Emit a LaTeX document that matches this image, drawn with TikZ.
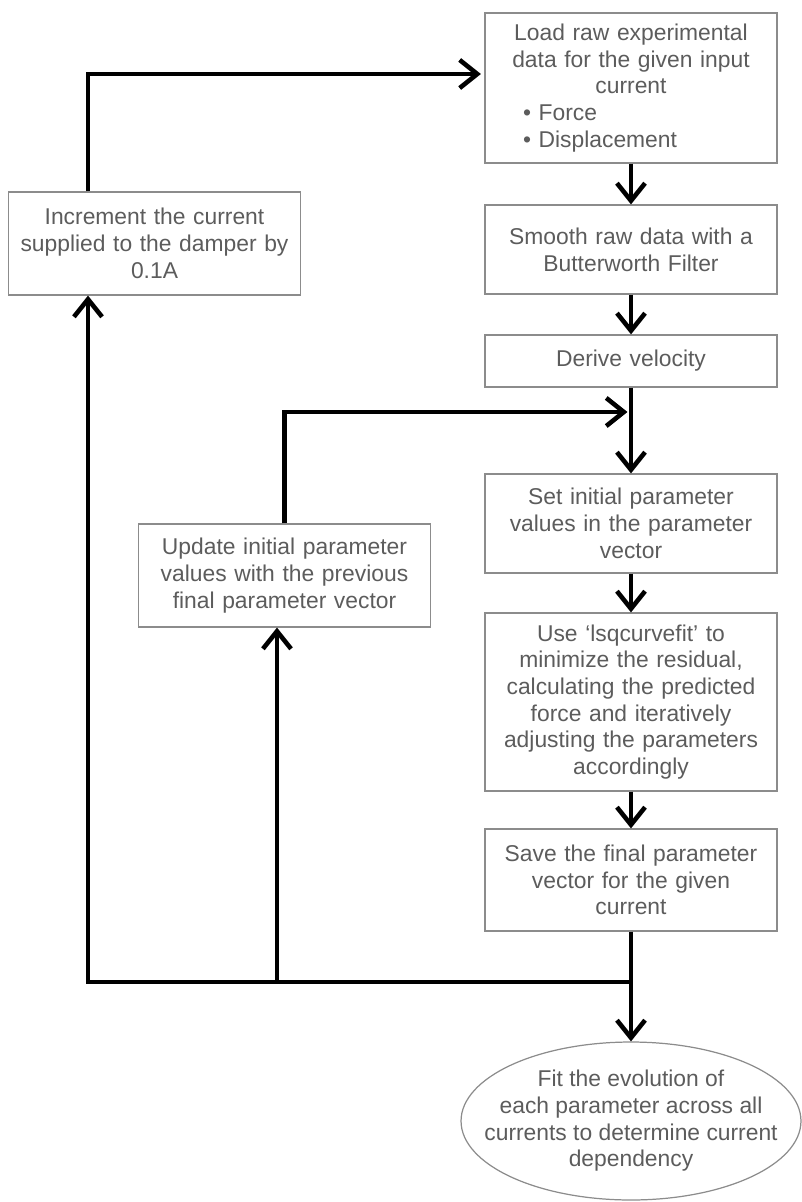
\documentclass[tikz,border=0pt]{standalone}
\usepackage{fontspec}
\setmainfont{Liberation Sans}
\usetikzlibrary{arrows.meta,positioning,calc,shapes.geometric}
\definecolor{boxline}{HTML}{8C8C8C}
\definecolor{boxtext}{HTML}{5C5C5C}

\begin{document}
\begin{tikzpicture}[x=0.02cm,y=-0.02cm,
  stage/.style={draw=boxline,line width=0.7pt,text=boxtext,align=center,text width=5.44cm,inner xsep=0.2cm,inner ysep=0pt,font=\fontsize{13}{15.2}\selectfont},
  endstage/.style={ellipse,draw=boxline,line width=0.7pt,text=boxtext,align=center,inner xsep=-0.6cm,inner ysep=0pt,minimum width=6.8cm,minimum height=3.16cm,font=\fontsize{13}{15.2}\selectfont},
  flow/.style={line width=2.6pt,-{Straight Barb[length=10pt,width=16pt]}}]
\useasboundingbox (0,0) rectangle (801,1202);
\node[stage,minimum height=3.0cm] (load) at (631,88) {Load raw experimental\\ data for the given input\\ current\\ \makebox[4.32cm][l]{\textbullet\ Force}\\ \makebox[4.32cm][l]{\textbullet\ Displacement}};
\node[stage,minimum height=1.78cm] (smooth) at (631,249.5) {Smooth raw data with a\\ Butterworth Filter};
\node[stage,minimum height=1.04cm] (derive) at (631,361) {Derive velocity};
\node[stage,minimum height=1.98cm] (setp) at (631,523.5) {Set initial parameter\\ values in the parameter\\ vector};
\node[stage,minimum height=3.56cm] (lsq) at (631,702) {Use ‘lsqcurvefit’ to\\ minimize the residual,\\ calculating the predicted\\ force and iteratively\\ adjusting the parameters\\ accordingly};
\node[stage,minimum height=2.04cm] (save) at (631,880) {Save the final parameter\\ vector for the given\\ current};
\node[endstage] (fit) at (631,1121) {Fit the evolution of\\ each parameter across all\\ currents to determine current\\ dependency};
\node[stage,minimum height=2.06cm] (incr) at (154.5,243.5) {Increment the current\\ supplied to the damper by\\ 0.1A};
\node[stage,minimum height=2.06cm] (update) at (284.5,575.5) {Update initial parameter\\ values with the previous\\ final parameter vector};
% corner points of the feedback lines
\coordinate (top) at (88,74);\coordinate (merge) at (631,412);
\coordinate (junc) at (631,982);\coordinate (lx) at (88,982);\coordinate (mx) at (277,982);
% main chain
\draw[flow] (load) -- (smooth);\draw[flow] (smooth) -- (derive);\draw[flow] (derive) -- (setp);
\draw[flow] (setp) -- (lsq);\draw[flow] (lsq) -- (save);\draw[flow] (save) -- (fit);
% feedback
\draw[flow] (incr.north -| top) -- (top) -- ([xshift=-2pt]top -| load.west);
\draw[flow] (update.north) |- ([xshift=-2pt]merge);
\draw[flow] (junc) -- (lx) -- (lx |- incr.south);\draw[flow] (mx) -- (mx |- update.south);
\end{tikzpicture}
\end{document}
